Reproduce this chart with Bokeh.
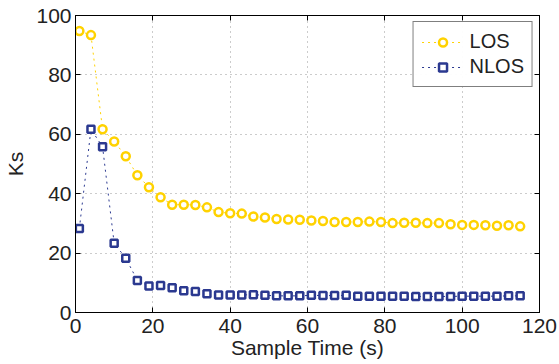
from bokeh.plotting import figure
from bokeh.models import LinearAxis, FixedTicker, Range1d, Legend, LegendItem, CustomLabelingPolicy
from bokeh.embed import file_html
from bokeh.resources import INLINE

sample_time = [1, 4, 7, 10, 13, 16, 19, 22, 25, 28, 31, 34, 37, 40, 43, 46, 49,
               52, 55, 58, 61, 64, 67, 70, 73, 76, 79, 82, 85, 88, 91, 94, 97,
               100, 103, 106, 109, 112, 115]
los = [94.8, 93.4, 61.7, 57.6, 52.6, 46.2, 42.2, 38.8, 36.3, 36.3, 36.2, 35.4, 33.8,
       33.4, 33.3, 32.3, 32.0, 31.5, 31.3, 31.2, 31.0, 30.8, 30.5, 30.5, 30.5, 30.6,
       30.5, 30.1, 30.2, 30.2, 30.1, 30.1, 29.7, 29.5, 29.5, 29.4, 29.2, 29.4, 29.0]
nlos = [28.3, 61.7, 55.8, 23.3, 18.3, 10.8, 8.9, 9.1, 8.3, 7.3, 7.1, 6.3, 5.9,
        5.9, 5.9, 6.0, 5.8, 5.6, 5.6, 5.6, 5.8, 5.7, 5.7, 5.8, 5.5, 5.5,
        5.5, 5.5, 5.5, 5.4, 5.4, 5.4, 5.4, 5.5, 5.5, 5.5, 5.5, 5.6, 5.6]
x_ticks = [0, 20, 40, 60, 80, 100, 120]
y_ticks = [0, 20, 40, 60, 80, 100]

LOS_COLOR = "#FFD200"
NLOS_COLOR = "#2B3990"
FONT = "Liberation Sans"
FS = "21px"

p = figure(width=559, height=364, output_backend="svg", toolbar_location=None,
           x_range=Range1d(0, 120), y_range=Range1d(0, 100),
           min_border_left=75, min_border_right=20, min_border_top=15, min_border_bottom=52)
p.background_fill_color = "white"
p.border_fill_color = "white"
p.outline_line_color = "black"
p.outline_line_width = 1

for ax in [p.xaxis[0], p.yaxis[0]]:
    ax.major_label_text_font = FONT
    ax.major_label_text_font_size = FS
    ax.major_label_text_color = "#222222"
    ax.axis_label_text_font = FONT
    ax.axis_label_text_font_size = FS
    ax.axis_label_text_font_style = "normal"
    ax.axis_label_text_color = "#222222"
    ax.major_tick_in = 5
    ax.major_tick_out = 0
    ax.minor_tick_in = 0
    ax.minor_tick_out = 0
    ax.axis_line_color = "black"
    ax.major_tick_line_color = "black"

p.xaxis[0].ticker = FixedTicker(ticks=x_ticks)
p.yaxis[0].ticker = FixedTicker(ticks=y_ticks)
p.xaxis[0].axis_label = "Sample Time (s)"
p.yaxis[0].axis_label = "Ks"
p.xaxis[0].major_label_standoff = 6
p.xaxis[0].axis_label_standoff = 0
p.yaxis[0].major_label_standoff = 4
p.yaxis[0].axis_label_standoff = 6

no_labels_js = """
try {
  const r = indices.clone ? indices.clone() : indices
  for (const i of Array.from(indices)) { r.unset(i) }
  return r
} catch (e) {
  return indices
}
"""

top = LinearAxis(ticker=FixedTicker(ticks=x_ticks), major_label_text_font_size="1px",
                 major_label_text_alpha=0,
                 major_label_policy=CustomLabelingPolicy(code=no_labels_js),
                 major_tick_in=5, major_tick_out=0, minor_tick_in=0, minor_tick_out=0,
                 major_label_standoff=0)
right = LinearAxis(ticker=FixedTicker(ticks=y_ticks), major_label_text_font_size="1px",
                   major_label_text_alpha=0,
                   major_label_policy=CustomLabelingPolicy(code=no_labels_js),
                   major_tick_in=5, major_tick_out=0, minor_tick_in=0, minor_tick_out=0,
                   major_label_standoff=0)
p.add_layout(top, "above")
p.add_layout(right, "right")

p.xgrid.ticker = FixedTicker(ticks=x_ticks)
p.ygrid.ticker = FixedTicker(ticks=y_ticks)
p.grid.grid_line_color = "#999999"
p.grid.grid_line_dash = "1 4"
p.grid.grid_line_width = 1

l1 = p.line(sample_time, los, line_color=LOS_COLOR, line_width=1, line_dash="2 4")
s1 = p.scatter(sample_time, los, marker="circle", size=8, line_color=LOS_COLOR,
               line_width=2.5, fill_color="white")
l2 = p.line(sample_time, nlos, line_color=NLOS_COLOR, line_width=1, line_dash="2 4")
s2 = p.scatter(sample_time, nlos, marker="square", size=7, line_color=NLOS_COLOR,
               line_width=2.5, fill_color="white")

legend = Legend(items=[LegendItem(label="LOS", renderers=[l1, s1]),
                       LegendItem(label="NLOS", renderers=[l2, s2])],
                location="top_right")
legend.label_text_font = FONT
legend.label_text_font_size = "20px"
legend.label_text_color = "#222222"
legend.border_line_color = "black"
legend.border_line_width = 1
legend.glyph_width = 42
legend.label_standoff = 6
legend.padding = 8
legend.spacing = 2
legend.margin = 6
p.add_layout(legend)

open("out.html", "w").write(file_html(p, INLINE))
